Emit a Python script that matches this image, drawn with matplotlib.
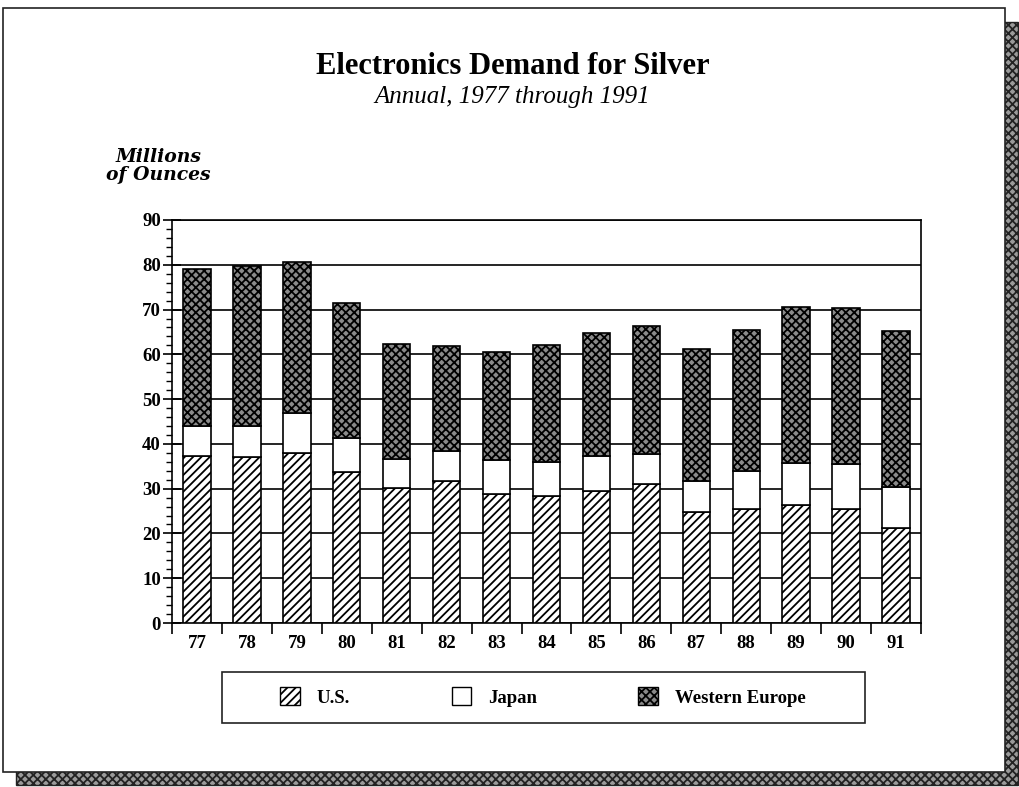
import matplotlib
matplotlib.use("Agg")
import matplotlib.pyplot as plt
from matplotlib.patches import Rectangle, Patch
from matplotlib.ticker import MultipleLocator

plt.rcParams["font.family"] = "Liberation Serif"
plt.rcParams["hatch.linewidth"] = 1.3

years = ["77", "78", "79", "80", "81", "82", "83", "84",
         "85", "86", "87", "88", "89", "90", "91"]
us = [37.2, 37.0, 37.9, 33.7, 30.1, 31.8, 28.8, 28.4,
      29.5, 31.0, 24.9, 25.5, 26.3, 25.5, 21.2]
japan = [6.7, 6.9, 9.1, 7.6, 6.5, 6.7, 7.7, 7.5,
         7.8, 6.7, 6.9, 8.5, 9.4, 10.0, 9.1]
w_europe = [35.1, 35.9, 33.6, 30.1, 25.7, 23.4, 24.1, 26.2,
            27.4, 28.7, 29.4, 31.5, 34.8, 34.9, 34.8]

W, H = 1020, 787
fig = plt.figure(figsize=(W / 100, H / 100), dpi=100)
fig.patch.set_facecolor("white")


def fx(px):
    return px / W


def fy(py):
    return 1 - py / H


# drop shadow + page frame
fig.patches.append(Rectangle((fx(16), fy(785)), fx(1018) - fx(16), fy(22) - fy(785),
                             transform=fig.transFigure, facecolor="#9a9a9a",
                             edgecolor="#222222", hatch="xxxx", lw=1.0, zorder=0))
fig.patches.append(Rectangle((fx(3), fy(772)), fx(1005) - fx(3), fy(8) - fy(772),
                             transform=fig.transFigure, facecolor="white",
                             edgecolor="#222222", lw=1.2, zorder=1))

# titles
fig.text(fx(513), fy(67), "Electronics Demand for Silver", ha="center", va="center",
         fontsize=22, fontweight="bold", zorder=5)
fig.text(fx(512), fy(97), "Annual, 1977 through 1991", ha="center", va="center",
         fontsize=18, style="italic", zorder=5)
fig.text(fx(158), fy(166), "Millions\nof Ounces", ha="center", va="center",
         fontsize=13.5, style="italic", fontweight="bold", linespacing=0.95,
         family="DejaVu Serif", zorder=5)

ax = fig.add_axes([fx(172), fy(623), fx(921) - fx(172), fy(220) - fy(623)])
ax.set_zorder(3)
ax.patch.set_alpha(0)

x = range(len(years))
bw = 0.55
bot_j = [u for u in us]
bot_w = [u + j for u, j in zip(us, japan)]
ax.bar(x, us, width=bw, facecolor="white", edgecolor="black", hatch="////",
       lw=1.2, zorder=3, label="U.S.")
ax.bar(x, japan, width=bw, bottom=bot_j, facecolor="white", edgecolor="black",
       lw=1.2, zorder=3, label="Japan")
ax.bar(x, w_europe, width=bw, bottom=bot_w, facecolor="#8a8a8a", edgecolor="black",
       hatch="xxxx", lw=1.2, zorder=3, label="Western Europe")

ax.set_xlim(-0.5, len(years) - 0.5)
ax.set_ylim(0, 90)
ax.yaxis.set_major_locator(MultipleLocator(10))
ax.yaxis.set_minor_locator(MultipleLocator(2))
ax.yaxis.grid(True, which="major", color="black", lw=1.2, zorder=1)
ax.set_axisbelow(True)

# year labels sit between the boundary ticks
ax.set_xticks([i - 0.5 for i in range(len(years) + 1)], minor=False)
ax.set_xticklabels([])
ax.set_xticks(list(x), minor=True)
ax.set_xticklabels(years, minor=True, fontsize=13.5, fontweight="bold")
ax.tick_params(axis="x", which="major", direction="out", length=8, width=1.2)
ax.tick_params(axis="x", which="minor", length=0, pad=9)
ax.tick_params(axis="y", which="major", direction="inout", length=13, width=1.2, pad=1.5,
               labelsize=13.5)
ax.tick_params(axis="y", which="minor", direction="out", length=4, width=1.0)
for lbl in ax.get_yticklabels():
    lbl.set_fontweight("bold")
for sp in ax.spines.values():
    sp.set_linewidth(1.2)

# legend box
fig.patches.append(Rectangle((fx(222), fy(723)), fx(865) - fx(222), fy(672) - fy(723),
                             transform=fig.transFigure, facecolor="white",
                             edgecolor="#222222", lw=1.2, zorder=2))
handles = [
    Patch(facecolor="white", edgecolor="black", hatch="////", lw=1.0),
    Patch(facecolor="white", edgecolor="black", lw=1.0),
    Patch(facecolor="#8a8a8a", edgecolor="black", hatch="xxxx", lw=1.0),
]
leg = fig.legend(handles, ["U.S.", "Japan", "Western Europe"], ncol=3,
                 loc="center", bbox_to_anchor=(fx(543), fy(697)),
                 frameon=False, handlelength=1.05, handleheight=1.05,
                 handletextpad=0.9, columnspacing=5.4,
                 prop={"weight": "bold", "size": 13.5})
leg.set_zorder(6)

fig.savefig("out.png", dpi=100)
